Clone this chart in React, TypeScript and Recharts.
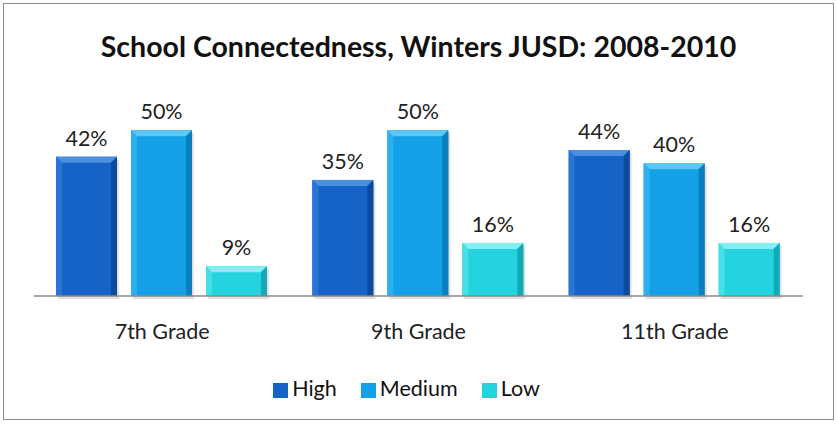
import { BarChart, Bar, XAxis, YAxis, Legend, LabelList } from "recharts";

const grades = ["7th Grade", "9th Grade", "11th Grade"];
const high = [42, 35, 44];
const medium = [50, 50, 40];
const low = [9, 16, 16];
const seriesOrder = ["High", "Medium", "Low"];

const data = grades.map((g, i) => ({ grade: g, High: high[i], Medium: medium[i], Low: low[i] }));

const palette: Record<string, { face: string; top: string; left: string; right: string }> = {
  High: { face: "#1663c7", top: "#4a8fe0", left: "#2a74d4", right: "#0c4a9e" },
  Medium: { face: "#14a0e6", top: "#5cc6f4", left: "#2fb0ee", right: "#0a7fc0" },
  Low: { face: "#25d3df", top: "#84eef2", left: "#45dfe8", right: "#14a9b8" },
};

const font = "Lato, 'Open Sans', sans-serif";

function BevelBar(props: any) {
  const { x, y, width, height, dataKey } = props;
  const c = palette[dataKey];
  const b = Math.min(6, height / 2);
  return (
    <g>
      <rect x={x + 2} y={y + 3} width={width} height={height} fill="#000" opacity={0.12} />
      <rect x={x} y={y} width={width} height={height} fill={c.face} />
      <polygon points={`${x},${y} ${x + width},${y} ${x + width - b},${y + b} ${x + b},${y + b}`} fill={c.top} />
      <polygon points={`${x},${y} ${x + b},${y + b} ${x + b},${y + height} ${x},${y + height}`} fill={c.left} />
      <polygon points={`${x + width},${y} ${x + width - b},${y + b} ${x + width - b},${y + height} ${x + width},${y + height}`} fill={c.right} />
    </g>
  );
}

export default function App() {
  return (
    <div style={{ position: "absolute", left: 0, top: 0, width: 837, height: 425, background: "#fff", fontFamily: font }}>
      <div style={{ position: "absolute", left: 3, top: 3, width: 829, height: 415, border: "1.5px solid #8c8c8c" }} />
      <div style={{ position: "absolute", left: 0, top: 28, width: 837, textAlign: "center", fontSize: 28.5, fontWeight: 700, color: "#111", lineHeight: "36px" }}>
        School Connectedness, Winters JUSD: 2008-2010
      </div>
      <div style={{ position: "absolute", left: 0, top: 0 }}>
        <BarChart width={837} height={425} data={data} margin={{ top: 97, right: 34, left: 34, bottom: 24 }} barCategoryGap={22} barGap={14}>
          <YAxis hide domain={[0, 60]} />
          <XAxis dataKey="grade" height={79} tickLine={false} axisLine={{ stroke: "#888", strokeWidth: 1.5 }} tickMargin={22} tick={{ fontSize: 21.5, fill: "#222", fontFamily: font }} />
          <Legend
            verticalAlign="bottom"
            iconType="square"
            iconSize={15}
            itemSorter={(item: any) => seriesOrder.indexOf(item.value)}
            wrapperStyle={{ fontSize: 21.5, fontFamily: font }}
            formatter={(v: string) => <span style={{ color: "#111", marginRight: 14 }}>{v}</span>}
          />
          {seriesOrder.map((k) => (
            <Bar key={k} dataKey={k} fill={palette[k].face} shape={<BevelBar dataKey={k} />} isAnimationActive={false}>
              <LabelList dataKey={k} position="top" offset={11} formatter={(v: any) => `${v}%`} style={{ fontSize: 21.5, fill: "#222", fontFamily: font }} />
            </Bar>
          ))}
        </BarChart>
      </div>
    </div>
  );
}
